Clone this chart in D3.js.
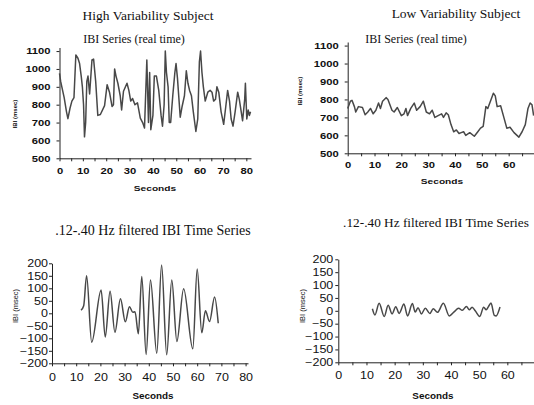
<!DOCTYPE html>
<html><head><meta charset="utf-8">
<script src="https://cdn.jsdelivr.net/npm/d3@7"></script>
<style>
html,body{margin:0;padding:0;background:#fff;}
svg{display:block;}
</style></head><body>
<div id="chart"></div>
<script>
const hiTime = [0,0.5,1,2,3,3.6,4.5,5.3,6.2,7,7.9,8.6,9.3,9.8,10.3,10.7,11.2,11.7,12.2,12.9,13.9,14.6,15.5,16.4,17.5,19.3,20.4,21.4,22.5,23.1,23.6,24.2,25,26,26.6,27.4,28.9,29.7,30.5,31.3,32.3,33.4,34.6,35.6,36.4,37.4,38.1,38.6,39.1,40,40.6,41.5,42.5,43.5,44.1,44.8,45.3,45.8,46.5,47,47.6,48.5,49.4,49.9,50.5,51.7,52.5,53.5,54.3,55,55.7,56.5,57.3,58.4,59.2,59.9,60.4,61,61.6,62.4,63.5,64.5,65.3,66,66.8,67.4,68.2,69.2,70.3,71.2,72,72.8,73.5,74.3,75.2,76.3,77,78.4,79.3,79.6,80.2,80.8,81.3,81.8];
const hiIBI  = [975,930,900,840,760,722,780,820,840,1078,1060,1030,960,900,800,620,700,930,960,860,1050,1055,930,740,745,795,912,870,790,800,1000,960,920,850,770,875,920,880,820,835,800,810,725,700,670,1050,700,980,660,740,960,960,880,740,680,800,1100,980,900,700,700,850,980,1030,950,730,790,850,990,920,880,850,760,650,720,1040,1100,980,900,820,870,880,870,820,830,900,870,760,690,790,880,820,720,680,760,870,830,710,830,920,720,770,740,760];

const loTime = [0,1,1.6,2.5,3,4,5.5,6.5,7.5,8.5,9.5,10.5,11.5,12.2,13,14.3,15,16.5,17.3,18.5,20,21,21.7,22.3,23.5,24.8,25.7,27,28.2,29.3,30.5,31.5,32.5,33.7,35,35.7,36.7,37.5,38.5,39.5,40.5,41.5,42.3,43.2,44,45.5,47.2,48.5,49.5,50.5,51.5,52.2,53.2,54.3,55,55.7,57,58.2,59.3,60.5,62,63.8,65,66.2,67.2,68,68.7,69.3];
const loIBI  = [750,790,795,760,730,760,755,715,730,750,720,740,780,750,790,810,800,740,730,755,710,720,750,710,750,780,740,760,790,730,720,740,700,710,720,700,725,715,660,620,630,610,615,620,600,615,595,620,640,650,760,750,790,835,820,760,765,700,640,645,615,590,620,660,750,780,770,710];

const hiFiltTime = [12,13.1,14.3,16.4,20.3,22,24,26,28.3,30.3,32,33.4,34.3,35.7,37.1,38.9,40.7,43.3,45.3,47.4,49.5,51.6,54.4,58.2,60,61.9,63.4,65.1,67.2,68.7];
const hiFiltIBI  = [12,30,150,-116,93,-95,88,-76,58,-34,26,4,6,-82,147,-165,133,-160,193,-166,133,-113,98,-142,177,-78,10,-33,65,-40];

const loFiltTime = [12.1,13,14.5,16.3,17.7,19.1,20.4,21.6,23.3,24.6,26.3,27.3,28.3,29.5,30.9,32.5,33.7,35.2,37.3,39.4,41.1,42.7,44,45.5,46.5,47.5,48.6,50.2,51.6,52.5,53.3,54.2,55.4,56,57.4];
const loFiltIBI  = [8,-16,29,-22,22,-12,16,-10,26,-20,28,-5,12,-12,10,-10,8,-6,29,-20,-4,10,2,17,4,14,0,-22,14,4,16,30,-18,-20,15];

const rawYTicks  = [500,600,700,800,900,1000,1100];
const filtYTicks = [-200,-150,-100,-50,0,50,100,150,200];
const hiXTicks   = d3.range(0,81,5);
const loXTicks   = d3.range(0,71,5);

const svg = d3.select("#chart").append("svg").attr("width",534).attr("height",405);
const SANS = "'Liberation Sans',Arial,sans-serif", SERIF = "'Liberation Serif','Times New Roman',serif";

function title(txt,x,y,size){
  svg.append("text").attr("x",x).attr("y",y).attr("text-anchor","middle")
    .attr("font-family",SERIF).attr("font-size",size).attr("fill","#111").text(txt);
}

// gestauchte Achsenschrift wie im Original (Grafik war breitgezogen)
function stretch(g,sx){
  g.selectAll(".tick text").each(function(){
    const t=d3.select(this), x=+t.attr("x")||0;
    t.attr("x",x/sx).attr("transform",`scale(${sx},1)`);
  });
}

function panel(p){
  const x=d3.scaleLinear().domain(p.xd).range(p.xr);
  const y=d3.scaleLinear().domain(p.yd).range(p.yr);
  const g=svg.append("g");
  const ax=g.append("g").attr("transform",`translate(0,${p.yr[0]})`)
    .call(d3.axisBottom(x).tickValues(p.xt).tickSize(3).tickSizeOuter(0).tickPadding(p.xpad)
      .tickFormat(d=>(d%10===0&&d<=p.xLab)?d:""));
  const ay=g.append("g").attr("transform",`translate(${p.xr[0]},0)`)
    .call(d3.axisLeft(y).tickValues(p.yt).tickSize(3).tickSizeOuter(0).tickPadding(p.ypad).tickFormat(d3.format("d")));
  [ax,ay].forEach(a=>{
    a.attr("font-family",SANS).attr("font-size",p.fs).attr("font-weight",p.fw);
    a.selectAll("path,line").attr("stroke","#222");
    a.selectAll("text").attr("fill","#111");
    stretch(a,p.sx);
  });
  g.append("path").datum(p.t.map((t,i)=>[t,p.v[i]]))
    .attr("fill","none").attr("stroke","#484848").attr("stroke-width",1.5).attr("stroke-linejoin","round")
    .attr("d",d3.line().x(d=>x(d[0])).y(d=>y(d[1])).curve(p.curve));
  g.append("text").attr("x",p.sec[0]).attr("y",p.sec[1]).attr("text-anchor","middle")
    .attr("font-family",SANS).attr("font-weight","bold").attr("font-size",p.secFs)
    .attr("transform",`translate(${p.sec[0]*(1-p.secSx)},0) scale(${p.secSx},1)`)
    .attr("fill","#111").text("Seconds");
  g.append("text").attr("transform",`translate(${p.yl[0]},${p.yl[1]}) rotate(-90)`)
    .attr("text-anchor","middle").attr("dy","0.35em").attr("font-family",SANS)
    .attr("font-weight",p.ylw).attr("font-size",p.ylFs).attr("fill","#111").text("IBI (msec)");
}

title("High Variability Subject",148,20,13.5);
title("IBI Series (real time)",134,43,12);
title("Low Variability Subject",456,18,13.5);
title("IBI Series (real time)",416,43,12);
title(".12-.40 Hz filtered IBI Time Series",153,235,14);
title(".12-.40 Hz filtered IBI Time Series",436,227,13.3);

panel({xd:[0,82],xr:[59.5,251],yd:[500,1120],yr:[158.3,47.5],xt:hiXTicks,xLab:80,yt:rawYTicks,
  t:hiTime,v:hiIBI,curve:d3.curveLinear,fs:9,fw:"bold",sx:1.25,xpad:6,ypad:6,
  sec:[155,191],secFs:8,secSx:1.27,yl:[15,114],ylFs:6,ylw:"bold"});
panel({xd:[0,70],xr:[347.7,535.5],yd:[500,1120],yr:[153.3,42],xt:loXTicks,xLab:60,yt:rawYTicks,
  t:loTime,v:loIBI,curve:d3.curveLinear,fs:9,fw:"bold",sx:1.25,xpad:5,ypad:6,
  sec:[442,184],secFs:8,secSx:1.27,yl:[300,91],ylFs:6,ylw:"bold"});
panel({xd:[0,81],xr:[52,248],yd:[-200,200],yr:[363.3,263.3],xt:hiXTicks,xLab:80,yt:filtYTicks,
  t:hiFiltTime,v:hiFiltIBI,curve:d3.curveMonotoneX,fs:10,fw:"normal",sx:1.25,xpad:8,ypad:1,
  sec:[153,399],secFs:9,secSx:1.1,yl:[15,306],ylFs:7.5,ylw:"normal"});
panel({xd:[0,70],xr:[338.3,535.5],yd:[-200,200],yr:[362.3,259.3],xt:loXTicks,xLab:60,yt:filtYTicks,
  t:loFiltTime,v:loFiltIBI,curve:d3.curveMonotoneX,fs:10,fw:"normal",sx:1.25,xpad:7,ypad:2,
  sec:[433,399],secFs:9,secSx:1.1,yl:[302,306],ylFs:7.5,ylw:"normal"});
</script>
</body></html>
